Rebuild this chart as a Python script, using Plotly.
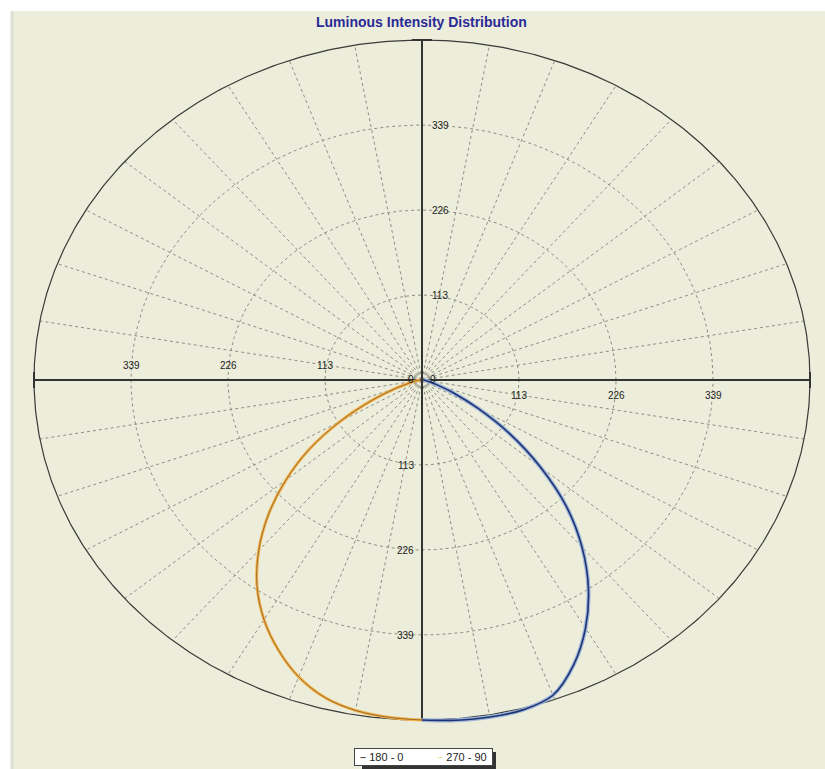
import numpy as np
import plotly.graph_objects as go

# ---------------- data ----------------
title_text = "Luminous Intensity Distribution"
gamma_deg = [0, 5, 10, 15, 20, 25, 30, 35, 40, 45, 50, 55, 60, 65, 70, 75, 80, 85, 90]
# C180-C0 plane (drawn on the right half, blue)
intensity_180_0 = [452, 454, 455, 454, 446, 418, 381, 338, 290, 238, 180, 125, 75, 40, 18, 9, 5, 3, 2]
# C270-C90 plane (drawn on the left half, orange)
intensity_270_90 = [452, 450, 446, 437, 420, 396, 368, 335, 296, 253, 207, 160, 110, 65, 32, 14, 7, 4, 2]
ring_values = [113, 226, 339, 452]
ring_labels = ["113", "226", "339"]
spoke_angles = list(range(0, 360, 10))
legend_names = ["180 - 0", "270 - 90"]

# ---------------- geometry of the page ----------------
W, H = 825, 769
cx_px, cy_px = 422, 380
sx = 97 / 113.0   # px per unit, horizontal
sy = 85 / 113.0   # px per unit, vertical
x_range = [-cx_px / sx, (W - cx_px) / sx]
y_range = [-(H - cy_px) / sy, cy_px / sy]
R = ring_values[-1]
blue_col, blue_halo = "#1e3470", "#9db4dc"
orange_col, orange_core = "#f3b24a", "#8e6328"


def px(xp):
    return xp / W


def py(yp):
    return 1 - yp / H


fig = go.Figure()

# dashed grid rings
t = np.linspace(0, 2 * np.pi, 721)
gx, gy = [], []
for r in ring_values[:-1]:
    gx += list(r * np.cos(t)) + [None]
    gy += list(r * np.sin(t)) + [None]
fig.add_trace(go.Scatter(x=gx, y=gy, mode="lines", showlegend=False, hoverinfo="skip",
                         line=dict(color="#8e8e86", width=1, dash="3px,3px")))

# dashed spokes
spx, spy = [], []
for a in spoke_angles:
    if a % 90 == 0:
        continue
    ar = np.radians(a)
    spx += [0, R * np.sin(ar), None]
    spy += [0, R * np.cos(ar), None]
fig.add_trace(go.Scatter(x=spx, y=spy, mode="lines", showlegend=False, hoverinfo="skip",
                         line=dict(color="#8e8e86", width=1, dash="3px,3px")))

# outer ring (solid)
fig.add_trace(go.Scatter(x=list(R * np.cos(t)), y=list(R * np.sin(t)), mode="lines",
                         showlegend=False, hoverinfo="skip",
                         line=dict(color="#3a3a3a", width=1.2)))

# main axes with end caps
cap_y = 8 / sy
cap_x = 10 / sx
ax_x = [-R, R, None, -R, -R, None, R, R, None, 0, 0, None, -cap_x, cap_x, None, -cap_x, cap_x]
ax_y = [0, 0, None, -cap_y, cap_y, None, -cap_y, cap_y, None, -R, R, None, R, R, None, -R, -R]
fig.add_trace(go.Scatter(x=ax_x, y=ax_y, mode="lines", showlegend=False, hoverinfo="skip",
                         line=dict(color="#333333", width=2)))

# curves
g = np.radians(gamma_deg)
i_b = np.array(intensity_180_0, dtype=float)
i_o = np.array(intensity_270_90, dtype=float)
xb, yb = i_b * np.sin(g), -i_b * np.cos(g)
xo, yo = -i_o * np.sin(g), -i_o * np.cos(g)

fig.add_trace(go.Scatter(x=xb, y=yb, mode="lines", showlegend=False, hoverinfo="skip",
                         line=dict(color=blue_halo, width=4, shape="spline")))
fig.add_trace(go.Scatter(x=xb, y=yb, mode="lines", name=legend_names[0], showlegend=False,
                         line=dict(color=blue_col, width=1.6, shape="spline")))
fig.add_trace(go.Scatter(x=xo, y=yo, mode="lines", name=legend_names[1], showlegend=False,
                         line=dict(color=orange_col, width=3, shape="spline")))
fig.add_trace(go.Scatter(x=xo, y=yo, mode="lines", showlegend=False, hoverinfo="skip",
                         line=dict(color=orange_core, width=0.9, shape="spline")))

# tick labels
ann = []
lab_font = dict(family="Arial, Liberation Sans, sans-serif", size=10, color="#222222")
for v, s in zip(ring_values[:-1], ring_labels):
    ann.append(dict(x=-v, y=15 / sy, text=s, showarrow=False, font=lab_font, xanchor="center", yanchor="middle"))
    ann.append(dict(x=v, y=-15 / sy, text=s, showarrow=False, font=lab_font, xanchor="center", yanchor="middle"))
    ann.append(dict(x=8 / sx, y=v, text=s, showarrow=False, font=lab_font, xanchor="left", yanchor="middle"))
    ann.append(dict(x=-6 / sx, y=-v, text=s, showarrow=False, font=lab_font, xanchor="right", yanchor="middle"))
ann.append(dict(x=-11 / sx, y=1, text="0", showarrow=False, font=lab_font, xanchor="center", yanchor="middle"))
ann.append(dict(x=11 / sx, y=1, text="0", showarrow=False, font=lab_font, xanchor="center", yanchor="middle"))

# title
ann.append(dict(x=px(422), y=py(22), xref="paper", yref="paper", text="<b>" + title_text + "</b>",
                showarrow=False, xanchor="center", yanchor="middle",
                font=dict(family="Arial, Liberation Sans, sans-serif", size=14, color="#2a2a96")))

# legend box (compact, as in the original)
gap = "&nbsp;" * 11
legend_text = ("&nbsp;<span style='color:%s'><b>–</b></span> %s%s"
               "<span style='color:%s'><b>–</b></span> %s&nbsp;") % (
    "#555555", legend_names[0], gap, "#f1e3a8", legend_names[1])
ann.append(dict(x=px(423), y=py(757), xref="paper", yref="paper", text=legend_text,
                showarrow=False, xanchor="center", yanchor="middle",
                bgcolor="white", bordercolor="#444444", borderwidth=1, borderpad=2,
                font=dict(family="Arial, Liberation Sans, sans-serif", size=11, color="#222222")))

shapes = [
    dict(type="rect", xref="paper", yref="paper", x0=px(12), x1=1, y0=0, y1=py(11),
         fillcolor="#ecedda", line=dict(width=0), layer="below"),
    dict(type="line", xref="paper", yref="paper", x0=px(12), x1=px(12), y0=0, y1=py(11),
         line=dict(color="#e0e0d6", width=3), layer="below"),
    # legend shadow
    dict(type="rect", xref="paper", yref="paper", x0=px(362), x1=px(496), y0=py(769), y1=py(752),
         fillcolor="#333333", line=dict(width=0), layer="below"),
]

fig.update_layout(
    width=W, height=H, autosize=False,
    margin=dict(l=0, r=0, t=0, b=0),
    paper_bgcolor="white", plot_bgcolor="rgba(0,0,0,0)",
    xaxis=dict(range=x_range, visible=False, fixedrange=True),
    yaxis=dict(range=y_range, visible=False, fixedrange=True),
    annotations=ann, shapes=shapes,
    showlegend=False,
    hovermode=False,
)

fig.write_html("out.html", config={"displayModeBar": False},
               post_script="document.body.style.margin='0';document.body.style.overflow='hidden';")
